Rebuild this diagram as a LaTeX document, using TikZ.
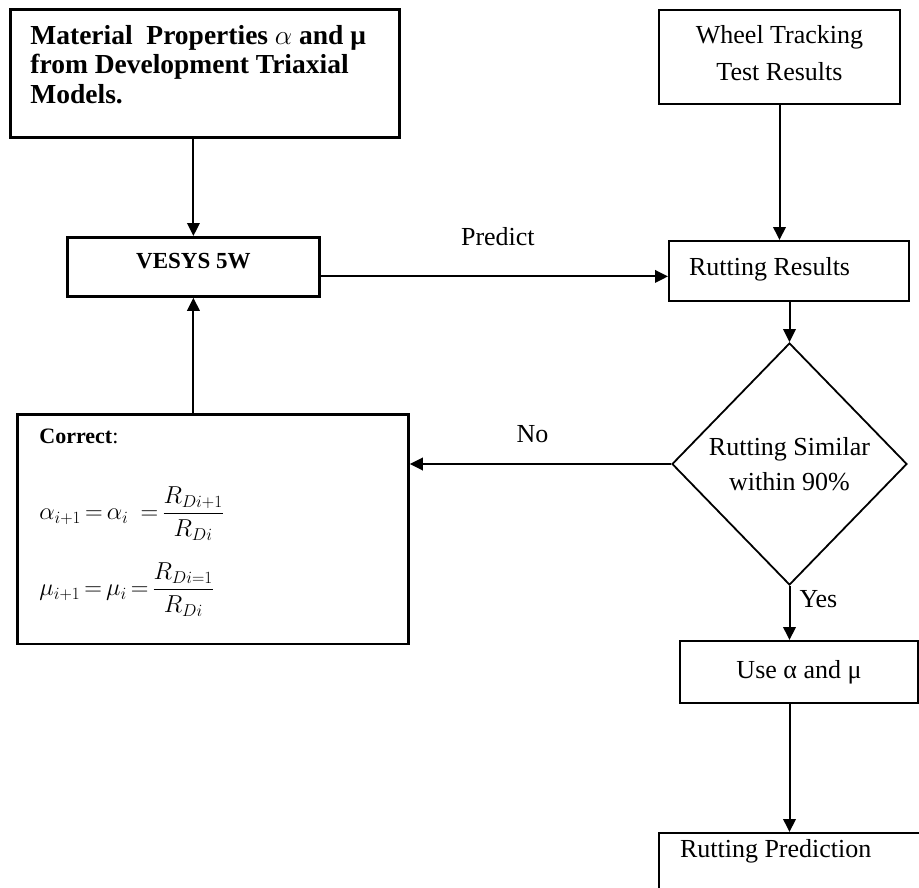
\RequirePackage{fix-cm}
\documentclass[tikz,border=0pt]{standalone}
\usepackage{amsmath}
\usepackage{fontspec}
\setmainfont{Liberation Serif}
\usetikzlibrary{arrows.meta, shapes.geometric}

\begin{document}
\begin{tikzpicture}[
  x=1pt, y=-1pt,
  font=\fontsize{26}{32}\selectfont,
  box/.style={draw=black, line width=2pt, inner sep=0pt},
  heavybox/.style={box, line width=2.8pt},
  decision/.style={diamond, draw=black, line width=1.8pt, inner sep=0pt, aspect=1, align=center},
  arrow/.style={-{Triangle[length=13pt, width=12.5pt]}, line width=2pt, draw=black},
  tag/.style={inner sep=0pt}
]
\useasboundingbox (0,0) rectangle (919,888);

% inputs
\node[heavybox, anchor=north west, inner xsep=20pt, inner ysep=16pt, text width=349pt, align=flush left,
  font=\bfseries\fontsize{27.5}{29.5}\selectfont] (props) at (9,8)
  {Material\ \ Properties $\alpha$ and μ\\from Development Triaxial\\Models.\rule[-18pt]{0pt}{0pt}};
\node[box, anchor=north west, text width=241pt, align=flush center, font=\fontsize{26}{37}\selectfont] (wheel) at (658,9)
  {\rule{0pt}{34pt}Wheel Tracking\\Test Results\rule[-23pt]{0pt}{0pt}};

% model and prediction
\node[heavybox, anchor=north west, minimum width=252pt, text height=31pt, text depth=28pt,
  font=\bfseries\fontsize{23}{27}\selectfont] (vesys) at (66,236) {VESYS 5W};
\node[box, anchor=north west, inner xsep=20pt, text width=200pt, align=flush left, text height=34pt, text depth=26pt] (results) at (668,240) {Rutting Results};
\node[decision, minimum width=235pt, minimum height=242pt, font=\fontsize{26}{35}\selectfont] (similar) at (789.5,464) {Rutting Similar\\within 90\%};

% correction loop
\node[heavybox, anchor=north west, inner xsep=22pt, inner ysep=15pt, text width=347pt, align=flush left,
  font=\fontsize{22}{76}\selectfont] (correct) at (16,413)
  {\textbf{Correct}:\\
   {\fontsize{24.5}{76}\selectfont$\thickmuskip=3mu \alpha_{i+1}=\alpha_i\;\;=\dfrac{R_{Di+1}}{R_{Di}}$}\\
   {\fontsize{24.5}{76}\selectfont$\thickmuskip=3mu \mu_{i+1}=\mu_i=\dfrac{R_{Di=1}}{R_{Di}}$}\rule[-33pt]{0pt}{0pt}};

% outputs
\node[box, minimum width=238pt, minimum height=62pt] (useparams) at (799,672) {Use α and μ};
\node[box, anchor=north west, inner xsep=21pt, text width=250pt, align=flush left, text height=24pt, text depth=60pt] (prediction) at (658,832) {Rutting Prediction};

\draw[arrow] (vesys.north |- props.south) -- (vesys.north);
\draw[arrow] (wheel.south) -- (wheel.south |- results.north);
\draw[arrow] ([yshift=-9.5pt]vesys.east) -- ([yshift=-9.5pt]vesys.east -| results.west)
  node[tag, pos=0.51, above=30pt] (predict) {Predict};
\draw[arrow] (similar.north |- results.south) -- (similar.north);
\draw[arrow] (similar.west) -- (similar.west -| correct.east)
  node[tag, pos=0.53, above=20pt] (no) {No};
\draw[arrow] (vesys.south |- correct.north) -- (vesys.south);
\draw[arrow] (similar.south) -- (similar.south |- useparams.north)
  node[tag, pos=0.25, right=9pt] (yes) {Yes};
\draw[arrow] (similar.south |- useparams.south) -- (similar.south |- prediction.north);
\end{tikzpicture}
\end{document}
